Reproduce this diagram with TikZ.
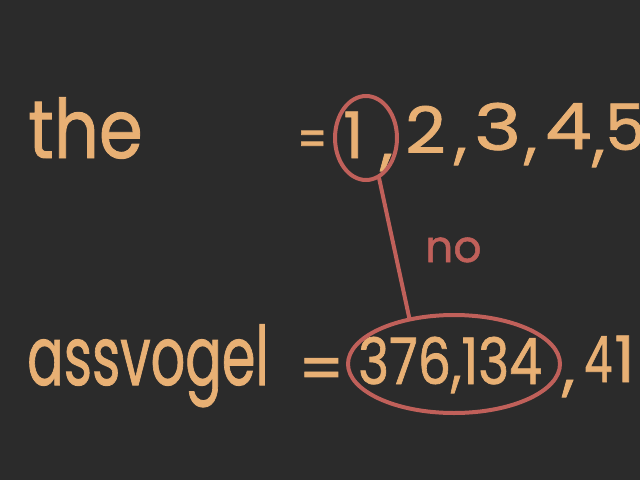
\documentclass[tikz,border=0pt]{standalone}
\usepackage{fontspec}
\setmainfont{Poppins}[UprightFeatures={FakeBold=1.2}]
\usetikzlibrary{shapes.geometric}
\definecolor{bg}{HTML}{2B2B2B}
\definecolor{ink}{HTML}{E8B074}
\definecolor{redink}{HTML}{C0605A}
\tikzset{
  hw/.style={text=ink, inner sep=0pt, anchor=base west, font=\fontsize{64}{64}\selectfont},
  big/.style={hw, font=\fontsize{82}{82}\selectfont},
  ring/.style={ellipse, draw=redink, line width=4pt, inner sep=0pt},
  link/.style={draw=redink, line width=4pt, line cap=round},
}
\begin{document}
\begin{tikzpicture}[x=1pt,y=-1pt]
\useasboundingbox (0,0) rectangle (640,480);
\fill[bg] (0,0) rectangle (640,480);
\clip (0,0) rectangle (640,480);
% top row
\node[big] (the) at (28,158) {\scalebox{0.86}[1]{the}};
\node[hw] (eq1) at (297,157) {\scalebox{0.65}[0.8]{=}};
\node[hw] (d1) at (343,158) {1};
\node[hw] (c1) at (380,162) {,};
\node[hw] (d2) at (405,153) {\scalebox{1.1}[1]{2}};
\node[hw] (c2) at (454,156) {,};
\node[hw] (d3) at (474,150) {\scalebox{1.25}[1]{3}};
\node[hw] (c3) at (524,156) {,};
\node[hw] (d4) at (545,149) {\scalebox{1.15}[1]{4}};
\node[hw] (c4) at (592,158) {,};
\node[hw] (d5) at (605,150) {5};
% bottom row
\node[big] (ass) at (27,385) {\scalebox{0.66}[1]{assvogel}};
\node[hw] (eq2) at (298,391) {=};
\node[hw] (num) at (358,384) {\scalebox{0.82}[1]{376,134}};
\node[hw] (c5) at (562,388) {,};
\node[hw] (d4b) at (584,382) {\scalebox{0.7}[1]{4}};
\node[hw] (d1b) at (614,382) {1};
% rings and link
\node[ring, minimum width=62pt, minimum height=84pt] (r1) at (366,138) {};
\node[ring, minimum width=212pt, minimum height=98pt] (r2) at (454,364) {};
\draw[link] (r1.-72) -- (r2.134);
\node[text=redink, inner sep=0pt, anchor=base west, font=\fontsize{44}{44}\selectfont] (no) at (425,262) {no};
\end{tikzpicture}
\end{document}
